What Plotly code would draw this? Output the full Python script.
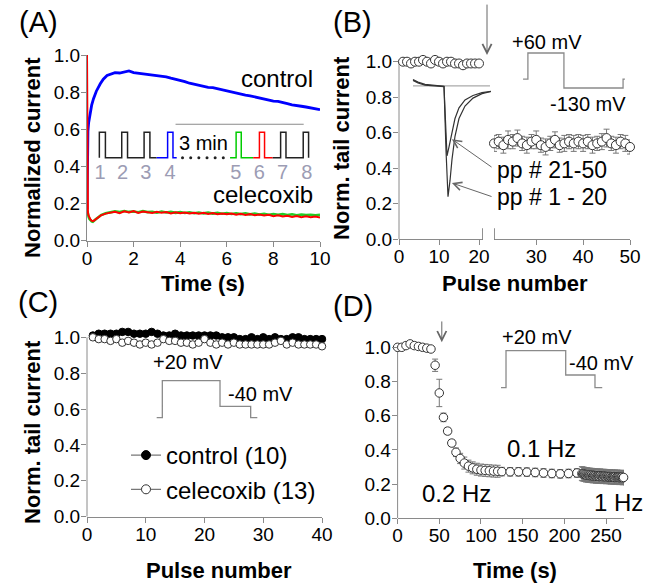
import plotly.graph_objects as go

W, H = 655, 584
FONT = "Liberation Sans, Arial, sans-serif"
AXC = "#8a8a8a"

# ---------------- Panel A: normalized current traces ----------------
fine_t = [round(1.0 + 0.2 * i, 1) for i in range(46)]

ctrl_t = [0, 0.01, 0.02, 0.04, 0.07, 0.12, 0.2, 0.28, 0.4, 0.57, 0.7, 0.86] + fine_t
ctrl_v = [0.17, 0.40, 0.52, 0.59, 0.635, 0.68, 0.73, 0.765, 0.805, 0.845, 0.87, 0.89,
          0.897, 0.905, 0.903, 0.910, 0.914, 0.905, 0.902, 0.896, 0.894, 0.889,
          0.890, 0.884, 0.882, 0.875, 0.870, 0.862, 0.857, 0.848, 0.842, 0.834,
          0.832, 0.826, 0.824, 0.818, 0.814, 0.806, 0.802, 0.795, 0.792, 0.784,
          0.780, 0.774, 0.772, 0.764, 0.760, 0.752, 0.750, 0.742, 0.738, 0.732,
          0.730, 0.724, 0.720, 0.714, 0.712, 0.706]

cel_green_t = [0.02, 0.04, 0.07, 0.1, 0.15, 0.2, 0.25, 0.3, 0.4, 0.5, 0.6, 0.8] + fine_t
cel_green_v = [0.16, 0.14, 0.128, 0.118, 0.11, 0.104, 0.102, 0.106, 0.118, 0.128, 0.138, 0.148,
               0.152, 0.158, 0.154, 0.160, 0.155, 0.157, 0.153, 0.159, 0.154, 0.156,
               0.151, 0.157, 0.152, 0.155, 0.150, 0.154, 0.149, 0.153, 0.148, 0.152,
               0.147, 0.151, 0.146, 0.150, 0.145, 0.149, 0.144, 0.148, 0.143, 0.147,
               0.142, 0.146, 0.141, 0.145, 0.140, 0.144, 0.139, 0.143, 0.138, 0.142,
               0.137, 0.141, 0.138, 0.140, 0.137, 0.139]

cel_red_t = [0, 0.02, 0.04, 0.07, 0.1, 0.15, 0.2, 0.25, 0.3, 0.4, 0.5, 0.6, 0.8] + fine_t
cel_red_v = [1.0, 0.17, 0.15, 0.135, 0.125, 0.115, 0.108, 0.105, 0.108, 0.118, 0.128, 0.136, 0.146,
             0.150, 0.156, 0.148, 0.158, 0.152, 0.160, 0.150, 0.157, 0.153, 0.149,
             0.156, 0.150, 0.154, 0.147, 0.153, 0.148, 0.152, 0.146, 0.151, 0.145,
             0.150, 0.144, 0.149, 0.143, 0.147, 0.142, 0.146, 0.140, 0.145, 0.139,
             0.143, 0.137, 0.141, 0.136, 0.140, 0.132, 0.137, 0.130, 0.134, 0.128,
             0.133, 0.127, 0.131, 0.126, 0.130, 0.125]

# pulse-train schematic (A), in panel-A axis units
protoA_base, protoA_top = 0.447, 0.584
protoA_pulses = [(0.53, 0.79), (1.49, 1.74), (2.45, 2.70), (3.46, 3.69),
                 (6.40, 6.62), (7.40, 7.62), (8.31, 8.54), (9.28, 9.51)]
protoA_segments = [  # (start, end, pulse indices, colour)
    (0.53, 2.99, [0, 1, 2], "#222222"),
    (2.99, 3.85, [3], "#0000ff"),
    (6.14, 7.13, [4], "#00cc00"),
    (7.13, 7.97, [5], "#ff0000"),
    (7.97, 9.51, [6, 7], "#222222"),
]
protoA_dots_t = [4.1, 4.45, 4.8, 5.15, 5.5, 5.85]
protoA_numbers = ["1", "2", "3", "4", "5", "6", "7", "8"]
protoA_number_t = [0.56, 1.53, 2.52, 3.56, 6.39, 7.39, 8.39, 9.43]
protoA_bar_t = [3.8, 9.3]
protoA_bar_v = 0.627

# ---------------- Panel B: tail current vs pulse number ----------------
B_pulse1 = list(range(1, 21))
B_val1 = [1.00, 1.00, 0.99, 1.00, 1.00, 1.01, 1.00, 0.99, 1.01, 1.00,
          0.99, 1.00, 1.00, 0.99, 0.99, 0.98, 0.99, 0.99, 0.99, 0.99]
B_err1 = [0.008] * 20
B_pulse2 = list(range(21, 51))
B_val2 = [0.54, 0.55, 0.53, 0.56, 0.55, 0.57, 0.54, 0.53, 0.55, 0.56,
          0.53, 0.52, 0.54, 0.56, 0.53, 0.54, 0.55, 0.54, 0.55, 0.54,
          0.55, 0.53, 0.54, 0.55, 0.57, 0.54, 0.53, 0.55, 0.54, 0.52]
B_err2 = [0.045, 0.04, 0.045, 0.05, 0.04, 0.045, 0.04, 0.045, 0.04, 0.05,
          0.04, 0.045, 0.04, 0.045, 0.04, 0.045, 0.04, 0.045, 0.04, 0.045,
          0.04, 0.045, 0.04, 0.045, 0.05, 0.04, 0.045, 0.04, 0.045, 0.04]

# inset current traces (B), normalized inset coordinates
insetB_t = [0.0606, 0.0823, 0.1126, 0.1558, 0.1948, 0.2035, 0.2121, 0.2208,
            0.2294, 0.2424, 0.2597, 0.2857, 0.3203, 0.3593, 0.3983]
insetB_pp1_20 = [0.900, 0.885, 0.872, 0.866, 0.862, 0.50, 0.24, 0.33,
                 0.45, 0.58, 0.68, 0.75, 0.795, 0.820, 0.832]
insetB_t2 = [0.0606, 0.0823, 0.1126, 0.1558, 0.1948, 0.2035, 0.2078, 0.2165,
             0.2294, 0.2424, 0.2597, 0.2857, 0.3203, 0.3593, 0.3983]
insetB_pp21_50 = [0.895, 0.880, 0.868, 0.863, 0.860, 0.60, 0.47, 0.52,
                  0.60, 0.68, 0.74, 0.785, 0.810, 0.826, 0.833]
insetB_ref_t = [0.0606, 0.3939]
insetB_ref_v = 0.864
# voltage protocol (B)
protoB_t = [0.537, 0.558, 0.558, 0.714, 0.714, 0.970, 0.970, 0.978]
protoB_v = [0.902, 0.902, 1.049, 1.049, 0.852, 0.852, 0.902, 0.902]

# ---------------- Panel C: control vs celecoxib ----------------
C_pulse = list(range(1, 41))
C_control = [1.01, 1.02, 1.02, 1.02, 1.02, 1.03, 1.03, 1.02, 1.02, 1.02,
             1.03, 1.02, 1.01, 1.01, 1.02, 1.01, 1.01, 1.01, 1.01, 1.01,
             1.01, 1.01, 1.00, 1.00, 1.00, 0.99, 0.99, 1.00, 0.99, 1.00,
             0.99, 1.00, 0.99, 0.99, 1.00, 1.00, 0.99, 0.99, 0.99, 0.99]
C_cele = [1.00, 0.99, 0.99, 0.98, 0.99, 0.97, 0.98, 0.97, 0.96, 0.97,
          0.96, 0.97, 0.99, 0.98, 0.98, 0.97, 0.97, 0.96, 0.97, 0.99,
          0.97, 0.96, 0.97, 0.96, 0.97, 0.96, 0.96, 0.96, 0.96, 0.96,
          0.96, 0.97, 0.98, 0.96, 0.97, 0.96, 0.96, 0.96, 0.96, 0.95]
C_err = [0.012] * 40
protoC_n = [11.86, 12.82, 12.82, 22.64, 22.64, 27.86, 27.86, 28.99]
protoC_v = [0.552, 0.552, 0.758, 0.758, 0.615, 0.615, 0.552, 0.552]

# ---------------- Panel D: tail current vs time ----------------
D_time = (list(range(0, 125, 5)) + list(range(125, 220, 10)) + list(range(221, 281)))
D_val = ([1.00, 1.00, 1.01, 1.02, 1.01, 1.005, 1.00, 0.995, 0.99,
          0.895, 0.733, 0.59, 0.51, 0.44, 0.386, 0.35, 0.323, 0.305, 0.295,
          0.287, 0.282, 0.280, 0.278, 0.276, 0.275] +
         [0.273, 0.272, 0.272, 0.270, 0.268, 0.265, 0.262, 0.260, 0.262, 0.265] +
         [0.262, 0.258, 0.260, 0.255, 0.257, 0.252, 0.256, 0.251, 0.254, 0.250,
          0.253, 0.249, 0.252, 0.247, 0.251, 0.248, 0.250, 0.245, 0.249, 0.246,
          0.248, 0.244, 0.249, 0.245, 0.246, 0.243, 0.247, 0.244, 0.246, 0.242,
          0.245, 0.243, 0.244, 0.241, 0.245, 0.240, 0.243, 0.241, 0.242, 0.239,
          0.243, 0.238, 0.242, 0.240, 0.241, 0.237, 0.240, 0.239, 0.241, 0.236,
          0.239, 0.237, 0.240, 0.235, 0.238, 0.236, 0.237, 0.234, 0.236, 0.233])
D_err = ([0.008] * 9 +
         [0.036, 0.08, 0.025, 0.02, 0.02, 0.025, 0.03, 0.035, 0.035, 0.035,
          0.035, 0.035, 0.035, 0.035, 0.035, 0.035] +
         [0.025] * 10 + [0.04] * 60)
protoD_t = [124.0, 130.0, 130.0, 201.6, 201.6, 236.7, 236.7, 245.4]
protoD_v = [0.764, 0.764, 0.98, 0.98, 0.838, 0.838, 0.764, 0.764]

# ---------------- layout helpers (pixel -> paper) ----------------
def dom_x(p0, p1):
    return [p0 / W, p1 / W]

def dom_y(top, bottom):
    return [1 - bottom / H, 1 - top / H]

# y extents (axis drawn 0..1, room above for markers/insets)
B_YMAX, C_YMAX, D_YMAX = 1.34, 1.08, 1.2
B_Y0, B_Y1 = 239.3, 61.7
C_Y0, C_Y1 = 516.7, 337.3
D_Y0, D_Y1 = 518.3, 347.3
def top_px(y0, y1, ymax):
    return y0 - ymax * (y0 - y1)

fig = go.Figure()

# Panel A traces
fig.add_trace(go.Scatter(x=ctrl_t, y=ctrl_v, mode="lines", line=dict(color="#0000ff", width=2.8),
                         xaxis="x", yaxis="y", showlegend=False))
fig.add_trace(go.Scatter(x=cel_green_t, y=cel_green_v, mode="lines", line=dict(color="#22cc22", width=2.6),
                         xaxis="x", yaxis="y", showlegend=False))
fig.add_trace(go.Scatter(x=cel_red_t, y=cel_red_v, mode="lines", line=dict(color="#ff0000", width=2.0),
                         xaxis="x", yaxis="y", showlegend=False))

def step_line(start, end, idxs):
    xs, ys = [start], [protoA_base]
    for i in idxs:
        on, off = protoA_pulses[i]
        xs += [on, on, off, off]
        ys += [protoA_base, protoA_top, protoA_top, protoA_base]
    xs.append(end)
    ys.append(protoA_base)
    return xs, ys

for start, end, idxs, col in protoA_segments:
    xs, ys = step_line(start, end, idxs)
    fig.add_trace(go.Scatter(x=xs, y=ys, mode="lines", line=dict(color=col, width=1.5),
                             xaxis="x", yaxis="y", showlegend=False))
fig.add_trace(go.Scatter(x=protoA_dots_t, y=[protoA_base] * len(protoA_dots_t), mode="markers",
                         marker=dict(color="#222222", size=3), xaxis="x", yaxis="y", showlegend=False))
fig.add_trace(go.Scatter(x=protoA_bar_t, y=[protoA_bar_v] * 2, mode="lines",
                         line=dict(color="#8a8a8a", width=1.2), xaxis="x", yaxis="y", showlegend=False))
fig.add_trace(go.Scatter(x=protoA_number_t, y=[0.36] * 8, mode="text", text=protoA_numbers,
                         textfont=dict(family=FONT, size=20, color="#9c9cb4"),
                         xaxis="x", yaxis="y", showlegend=False))

# Panel B traces
mk_open = dict(symbol="circle", size=9, color="white", line=dict(color="#333333", width=1))
eb = dict(type="data", color="#777777", thickness=1, width=3)
fig.add_trace(go.Scatter(x=B_pulse1, y=B_val1, mode="markers", marker=mk_open,
                         error_y=dict(array=B_err1, **eb), cliponaxis=False,
                         xaxis="x2", yaxis="y2", showlegend=False))
fig.add_trace(go.Scatter(x=B_pulse2, y=B_val2, mode="markers", marker=mk_open,
                         error_y=dict(array=B_err2, **eb), cliponaxis=False,
                         xaxis="x3", yaxis="y2", showlegend=False))
# B inset (overlay axes x4/y4)
fig.add_trace(go.Scatter(x=insetB_ref_t, y=[insetB_ref_v] * 2, mode="lines",
                         line=dict(color="#aaaaaa", width=1.2), xaxis="x4", yaxis="y4", showlegend=False))
fig.add_trace(go.Scatter(x=insetB_t, y=insetB_pp1_20, mode="lines", line=dict(color="#333333", width=1.2),
                         xaxis="x4", yaxis="y4", showlegend=False))
fig.add_trace(go.Scatter(x=insetB_t2, y=insetB_pp21_50, mode="lines", line=dict(color="#333333", width=1.2),
                         xaxis="x4", yaxis="y4", showlegend=False))
fig.add_trace(go.Scatter(x=protoB_t, y=protoB_v, mode="lines", line=dict(color="#8a8a8a", width=1.3),
                         xaxis="x4", yaxis="y4", showlegend=False))

# Panel C traces
fig.add_trace(go.Scatter(x=C_pulse, y=C_control, mode="markers",
                         marker=dict(symbol="circle", size=7.5, color="black", line=dict(color="black", width=1)),
                         error_y=dict(array=C_err, **eb), cliponaxis=False,
                         xaxis="x5", yaxis="y5", showlegend=False))
fig.add_trace(go.Scatter(x=C_pulse, y=C_cele, mode="markers",
                         marker=dict(symbol="circle", size=7.5, color="white", line=dict(color="#333333", width=1)),
                         error_y=dict(array=C_err, **eb), cliponaxis=False,
                         xaxis="x5", yaxis="y5", showlegend=False))
fig.add_trace(go.Scatter(x=protoC_n, y=protoC_v, mode="lines", line=dict(color="#8a8a8a", width=1.3),
                         xaxis="x5", yaxis="y5", showlegend=False))
# legend-only entries
fig.add_trace(go.Scatter(x=[None], y=[None], mode="lines+markers", name="control (10)",
                         line=dict(color="#555555", width=1),
                         marker=dict(symbol="circle", size=9, color="black", line=dict(color="black", width=1)),
                         xaxis="x5", yaxis="y5"))
fig.add_trace(go.Scatter(x=[None], y=[None], mode="lines+markers", name="celecoxib (13)",
                         line=dict(color="#555555", width=1),
                         marker=dict(symbol="circle", size=9, color="white", line=dict(color="#333333", width=1)),
                         xaxis="x5", yaxis="y5"))

# Panel D traces
fig.add_trace(go.Scatter(x=D_time, y=D_val, mode="markers",
                         marker=dict(symbol="circle", size=8.5, color="white", line=dict(color="#333333", width=1)),
                         error_y=dict(array=D_err, **eb), cliponaxis=False,
                         xaxis="x6", yaxis="y6", showlegend=False))
fig.add_trace(go.Scatter(x=protoD_t, y=protoD_v, mode="lines", line=dict(color="#8a8a8a", width=1.3),
                         xaxis="x6", yaxis="y6", showlegend=False))

# ---------------- axes ----------------
tickfont = dict(family=FONT, size=19, color="black")
common = dict(showline=True, linecolor=AXC, linewidth=1, ticks="outside", ticklen=5,
              tickcolor=AXC, tickwidth=1, showgrid=False, zeroline=False, tickfont=tickfont,
              automargin=False)
xcommon = dict(common, ticklabelstandoff=-5)
ycommon = dict(common, ticklabelstandoff=-3)
yticks = dict(tickvals=[0, 0.2, 0.4, 0.6, 0.8, 1.0], tickformat=".1f")

fig.update_layout(
    template="none",
    xaxis=dict(xcommon, domain=dom_x(87, 320), range=[0, 10], tickvals=[0, 2, 4, 6, 8, 10], anchor="y"),
    yaxis=dict(ycommon, **yticks, range=[0, 1], domain=dom_y(55, 240.7), anchor="x", layer="below traces"),
    xaxis2=dict(xcommon, domain=dom_x(399, 483), range=[0, 21], tickvals=[0, 10, 20], anchor="y2"),
    xaxis3=dict(xcommon, domain=dom_x(494, 630), range=[21, 50], tickvals=[30, 40, 50], anchor="y2"),
    yaxis2=dict(ycommon, **yticks, range=[0, B_YMAX], showline=False,
                domain=dom_y(top_px(B_Y0, B_Y1, B_YMAX), B_Y0), anchor="x2"),
    xaxis4=dict(domain=dom_x(399, 630), range=[0, 1], visible=False, anchor="y4", automargin=False),
    yaxis4=dict(domain=dom_y(top_px(B_Y0, B_Y1, B_YMAX), B_Y0), range=[0, B_YMAX], visible=False,
                anchor="x4", automargin=False),
    xaxis5=dict(xcommon, domain=dom_x(87, 322), range=[0, 40], tickvals=[0, 10, 20, 30, 40], anchor="y5"),
    yaxis5=dict(ycommon, **yticks, range=[0, C_YMAX], showline=False,
                domain=dom_y(top_px(C_Y0, C_Y1, C_YMAX), C_Y0), anchor="x5"),
    xaxis6=dict(xcommon, domain=dom_x(397.6, 624), range=[0, 271.5], tickvals=[0, 50, 100, 150, 200, 250],
                anchor="y6"),
    yaxis6=dict(ycommon, **yticks, range=[0, D_YMAX], showline=False,
                domain=dom_y(top_px(D_Y0, D_Y1, D_YMAX), D_Y0), anchor="x6"),
)

# y-axis lines drawn only over 0..1 (B, C, D)
for xr, yr in [("x2", "y2"), ("x5", "y5"), ("x6", "y6")]:
    fig.add_shape(type="line", xref=f"{xr} domain", x0=0, x1=0, yref=yr, y0=0, y1=1,
                  line=dict(color=AXC, width=1), layer="below")

# axis break marks on panel B
fig.add_shape(type="line", xref="x2", x0=21, x1=21, yref="y2", y0=-0.062, y1=0.062,
              line=dict(color="#555555", width=1.3))
fig.add_shape(type="line", xref="x3", x0=21, x1=21, yref="y2", y0=-0.062, y1=0.062,
              line=dict(color="#555555", width=1.3))

ann = []
def txt(text, x, y, xref, yref, size=20, bold=False, xanchor="center", yanchor="middle", angle=0, color="black"):
    ann.append(dict(text=f"<b>{text}</b>" if bold else text, x=x, y=y, xref=xref, yref=yref,
                    showarrow=False, xanchor=xanchor, yanchor=yanchor, textangle=angle,
                    font=dict(family=FONT, size=size, color=color)))

# panel labels
txt("(A)", 38 / W, 1 - 22 / H, "paper", "paper", size=29)
txt("(B)", 352 / W, 1 - 22 / H, "paper", "paper", size=29)
txt("(C)", 38 / W, 1 - 302 / H, "paper", "paper", size=29)
txt("(D)", 353 / W, 1 - 306 / H, "paper", "paper", size=29)

# axis titles
txt("Normalized current", 32 / W, 1 - 158 / H, "paper", "paper", size=22, bold=True, angle=-90)
txt("Time (s)", 203 / W, 1 - 283 / H, "paper", "paper", size=22, bold=True)
txt("Norm. tail current", 341 / W, 1 - 148 / H, "paper", "paper", size=22, bold=True, angle=-90)
txt("Pulse number", 515 / W, 1 - 283 / H, "paper", "paper", size=22, bold=True)
txt("Norm. tail current", 32 / W, 1 - 432 / H, "paper", "paper", size=22, bold=True, angle=-90)
txt("Pulse number", 219 / W, 1 - 570 / H, "paper", "paper", size=22, bold=True)
txt("Time (s)", 515 / W, 1 - 570 / H, "paper", "paper", size=22, bold=True)

# panel A texts
txt("control", 9.79, 0.871, "x", "y", size=24, xanchor="right")
txt("celecoxib", 9.79, 0.25, "x", "y", size=24, xanchor="right")
txt("3 min", 5.02, 0.526, "x", "y", size=20)

# panel B texts
txt("+60 mV", 0.641, 1.11, "x4", "y4", size=20)
txt("-130 mV", 0.818, 0.761, "x4", "y4", size=20)
txt("pp # 21-50", 0.4156, 0.39, "x4", "y4", size=23, xanchor="left")
txt("pp # 1 - 20", 0.4156, 0.238, "x4", "y4", size=23, xanchor="left")
for hx, hy, tx, ty in [(0.229, 0.564, 0.407, 0.401), (0.229, 0.317, 0.407, 0.238)]:
    ann.append(dict(x=hx, y=hy, ax=tx, ay=ty, xref="x4", yref="y4", axref="x4", ayref="y4",
                    showarrow=True, arrowhead=5, arrowsize=1.6, arrowwidth=1, arrowcolor="#666666", text=""))
ann.append(dict(x=0.381, y=1.038, ax=0.381, ay=1.33, xref="x4", yref="y4", axref="x4", ayref="y4",
                showarrow=True, arrowhead=5, arrowsize=1.8, arrowwidth=1, arrowcolor="#666666", text=""))

# panel C texts
txt("+20 mV", 17.25, 0.864, "x5", "y5", size=20)
txt("-40 mV", 29.6, 0.684, "x5", "y5", size=20)

# panel D texts
txt("+20 mV", 166.8, 1.062, "x6", "y6", size=20)
txt("-40 mV", 244.7, 0.906, "x6", "y6", size=20)
txt("0.2 Hz", 70.8, 0.146, "x6", "y6", size=24)
txt("0.1 Hz", 172.7, 0.41, "x6", "y6", size=24)
txt("1 Hz", 264.7, 0.094, "x6", "y6", size=24)
ann.append(dict(x=53, y=1.03, ax=53, ay=1.16, xref="x6", yref="y6", axref="x6", ayref="y6",
                showarrow=True, arrowhead=5, arrowsize=1.8, arrowwidth=1, arrowcolor="#666666", text=""))

fig.update_layout(
    annotations=ann,
    width=W, height=H,
    margin=dict(l=0, r=0, t=0, b=0, pad=0),
    paper_bgcolor="white", plot_bgcolor="rgba(0,0,0,0)",
    font=dict(family=FONT, size=19, color="black"),
    showlegend=True,
    legend=dict(x=126 / W, y=1 - 433 / H, xanchor="left", yanchor="top",
                bgcolor="rgba(0,0,0,0)", borderwidth=0,
                font=dict(family=FONT, size=24, color="black"),
                itemwidth=30, tracegroupgap=0),
)

fig.write_html("out.html", config={"displayModeBar": False},
               post_script="document.body.style.margin='0';document.body.style.overflow='hidden';")
